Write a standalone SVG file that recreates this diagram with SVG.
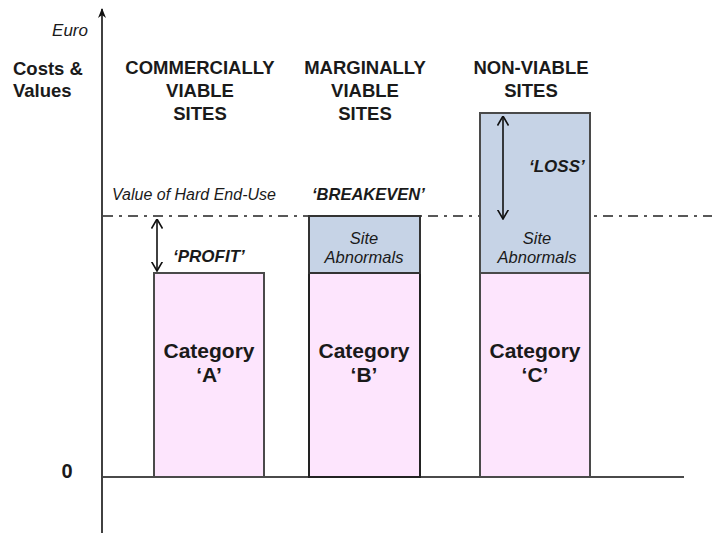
<svg xmlns="http://www.w3.org/2000/svg" width="712" height="533" viewBox="0 0 712 533">
<defs>
<style>
text{font-family:"Liberation Sans",Arial,sans-serif;fill:#1a1a1a}
.h{font-size:18.5px;font-weight:bold;text-anchor:middle}
.cat{font-size:21px;font-weight:bold;text-anchor:middle}
.it{font-size:16px;font-style:italic}
.bi{font-size:17px;font-style:italic;font-weight:bold}
.sa{font-size:16.5px;font-style:italic;text-anchor:middle}
.pink{fill:#fde5fd;stroke:#4a4a4a;stroke-width:2}
.blue{fill:#c6d3e6;stroke:#4a4a4a;stroke-width:2}
.conn{stroke:#111;stroke-width:1.6;fill:none}
</style>
<marker id="ax" viewBox="0 0 10 10" refX="9" refY="5" markerWidth="10" markerHeight="10" markerUnits="userSpaceOnUse" orient="auto">
<path d="M0,1 L10,5 L0,9 L3,5 Z" fill="#111"/>
</marker>
<marker id="open" viewBox="0 0 10 12" refX="9.5" refY="6" markerWidth="10" markerHeight="12" markerUnits="userSpaceOnUse" orient="auto-start-reverse">
<path d="M0,0.5 L9.5,6 L0,11.5" fill="none" stroke="#111" stroke-width="1.6"/>
</marker>
</defs>
<rect width="712" height="533" fill="#fff"/>

<g id="axes">
<line x1="102" y1="533" x2="102" y2="9" stroke="#111" stroke-width="1.6" marker-end="url(#ax)"/>
<line x1="103" y1="477" x2="684" y2="477" stroke="#4a4a4a" stroke-width="2"/>
<text x="67" y="478" style="font-size:20px;font-weight:bold" text-anchor="middle">0</text>
<text x="88" y="36" class="it" text-anchor="end" style="font-size:17px">Euro</text>
<text x="13" y="75" style="font-size:18.5px;font-weight:bold">Costs &amp;</text>
<text x="13" y="97" style="font-size:18.5px;font-weight:bold">Values</text>
</g>

<g id="headers">
<text class="h" x="200" y="74">COMMERCIALLY</text>
<text class="h" x="200" y="97">VIABLE</text>
<text class="h" x="200" y="120">SITES</text>
<text class="h" x="365" y="74">MARGINALLY</text>
<text class="h" x="365" y="97">VIABLE</text>
<text class="h" x="365" y="120">SITES</text>
<text class="h" x="531" y="74">NON-VIABLE</text>
<text class="h" x="531" y="97">SITES</text>
</g>

<g id="value-line">
<line x1="103" y1="216" x2="712" y2="216" stroke="#222" stroke-width="1.6" stroke-dasharray="10 6 3 6"/>
<text class="it" x="112" y="200">Value of Hard End-Use</text>
<text class="bi" x="312" y="200" style="font-size:16.5px">‘BREAKEVEN’</text>
</g>

<g id="bar-a">
<rect class="pink" x="154" y="273" width="110" height="204"/>
<text class="cat" x="209" y="358">Category</text>
<text class="cat" x="209" y="382">‘A’</text>
</g>

<g id="bar-b">
<rect class="pink" x="309" y="273" width="111" height="204" style="stroke:#222"/>
<rect class="blue" x="309" y="216" width="111" height="57" style="stroke:#333"/>
<text class="sa" x="364" y="244">Site</text>
<text class="sa" x="364" y="263">Abnormals</text>
<text class="cat" x="364" y="358">Category</text>
<text class="cat" x="364" y="382">‘B’</text>
</g>

<g id="bar-c">
<rect class="pink" x="480" y="273" width="110" height="204"/>
<rect class="blue" x="480" y="113" width="110" height="160"/>
<text class="sa" x="537" y="244">Site</text>
<text class="sa" x="537" y="263">Abnormals</text>
<text class="bi" x="529" y="172">‘LOSS’</text>
<text class="cat" x="535" y="358">Category</text>
<text class="cat" x="535" y="382">‘C’</text>
</g>

<g id="connectors">
<line class="conn" x1="157" y1="219" x2="157" y2="271" marker-start="url(#open)" marker-end="url(#open)"/>
<text class="bi" x="173" y="262">‘PROFIT’</text>
<line class="conn" x1="503" y1="116" x2="503" y2="219" marker-start="url(#open)" marker-end="url(#open)"/>
</g>
</svg>
